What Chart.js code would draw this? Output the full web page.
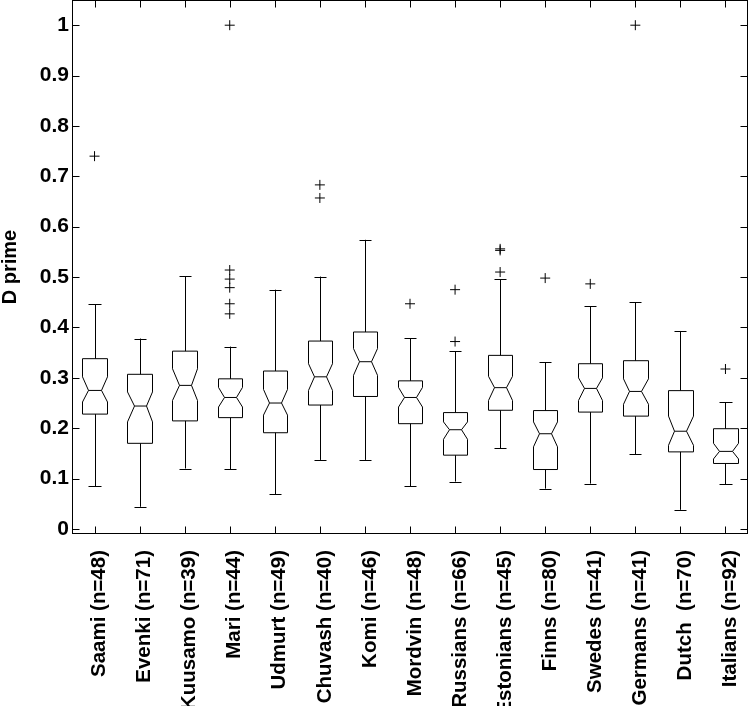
<!DOCTYPE html>
<html>
<head>
<meta charset="utf-8">
<script src="https://cdn.jsdelivr.net/npm/chart.js@4"></script>
<style>
  html, body { margin: 0; padding: 0; background: #fff; }
  #wrap { width: 749px; height: 706px; }
</style>
</head>
<body>
<div id="wrap"><canvas id="chart"></canvas></div>
<script>
const groups = [
  'Saami (n=48)', 'Evenki (n=71)', 'Kuusamo (n=39)', 'Mari (n=44)', 'Udmurt (n=49)',
  'Chuvash (n=40)', 'Komi (n=46)', 'Mordvin (n=48)', 'Russians (n=66)', 'Estonians (n=45)',
  'Finns (n=80)', 'Swedes (n=41)', 'Germans (n=41)', 'Dutch  (n=70)', 'Italians (n=92)'
];
const lowerWhisker = [0.085, 0.044, 0.120, 0.119, 0.069, 0.137, 0.137, 0.085, 0.094, 0.160, 0.080, 0.090, 0.148, 0.038, 0.089];
const q1           = [0.228, 0.170, 0.2145, 0.221, 0.191, 0.246, 0.263, 0.209, 0.1465, 0.2356, 0.118, 0.232, 0.224, 0.153, 0.130];
const notchLow     = [0.252, 0.2125, 0.255, 0.242, 0.226, 0.275, 0.305, 0.242, 0.178, 0.255, 0.163, 0.255, 0.2475, 0.166, 0.139];
const median       = [0.275, 0.244, 0.285, 0.261, 0.250, 0.302, 0.332, 0.261, 0.197, 0.2805, 0.189, 0.279, 0.273, 0.194, 0.154];
const notchHigh    = [0.302, 0.272, 0.318, 0.281, 0.277, 0.328, 0.358, 0.281, 0.2125, 0.303, 0.2125, 0.300, 0.298, 0.224, 0.170];
const q3           = [0.338, 0.307, 0.353, 0.298, 0.3135, 0.373, 0.391, 0.294, 0.231, 0.3446, 0.235, 0.328, 0.334, 0.2746, 0.199];
const upperWhisker = [0.446, 0.378, 0.502, 0.362, 0.475, 0.501, 0.574, 0.379, 0.353, 0.496, 0.331, 0.442, 0.450, 0.393, 0.2515];
const outliers = [
  [0.740], [], [], [0.427, 0.447, 0.479, 0.496, 0.514, 1.0], [],
  [0.657, 0.683], [], [0.447], [0.372, 0.475], [0.510, 0.553, 0.556],
  [0.498], [0.4865], [1.0], [], [0.3175]
];
const yTicks = [0, 0.1, 0.2, 0.3, 0.4, 0.5, 0.6, 0.7, 0.8, 0.9, 1];

const FONT = "'Liberation Sans', Helvetica, Arial, sans-serif";

const outlierPoints = [];
outliers.forEach((vals, i) => {
  vals.forEach(v => outlierPoints.push({ x: groups[i], y: v }));
});

const crisp = v => Math.round(v) + 0.5;

// notched boxes, frame and inward ticks
const boxPlotPlugin = {
  id: 'boxPlot',
  afterDatasetsDraw(chart) {
    const { ctx, chartArea: area } = chart;
    const xs = chart.scales.x;
    const ys = chart.scales.y;
    const step = xs.getPixelForValue(1) - xs.getPixelForValue(0);
    const halfW = step * 0.27;
    const notchW = halfW * 0.5;
    const capW = halfW * 0.5;

    ctx.save();
    ctx.strokeStyle = '#000';
    ctx.lineWidth = 1;

    groups.forEach((g, i) => {
      const cx = xs.getPixelForValue(i);
      const py = v => ys.getPixelForValue(v);
      const l = crisp(cx - halfW), r = crisp(cx + halfW);
      const nl = crisp(cx - notchW), nr = crisp(cx + notchW);

      // box with notch
      ctx.beginPath();
      ctx.moveTo(l, py(q3[i]));
      ctx.lineTo(r, py(q3[i]));
      ctx.lineTo(r, py(notchHigh[i]));
      ctx.lineTo(nr, py(median[i]));
      ctx.lineTo(r, py(notchLow[i]));
      ctx.lineTo(r, py(q1[i]));
      ctx.lineTo(l, py(q1[i]));
      ctx.lineTo(l, py(notchLow[i]));
      ctx.lineTo(nl, py(median[i]));
      ctx.lineTo(l, py(notchHigh[i]));
      ctx.closePath();
      ctx.stroke();

      // median
      ctx.beginPath();
      ctx.moveTo(nl, py(median[i]));
      ctx.lineTo(nr, py(median[i]));
      ctx.stroke();

      // whiskers
      const wx = crisp(cx);
      ctx.beginPath();
      ctx.moveTo(wx, py(q3[i]));
      ctx.lineTo(wx, py(upperWhisker[i]));
      ctx.moveTo(wx, py(q1[i]));
      ctx.lineTo(wx, py(lowerWhisker[i]));
      ctx.moveTo(crisp(cx - capW), crisp(py(upperWhisker[i])));
      ctx.lineTo(crisp(cx + capW), crisp(py(upperWhisker[i])));
      ctx.moveTo(crisp(cx - capW), crisp(py(lowerWhisker[i])));
      ctx.lineTo(crisp(cx + capW), crisp(py(lowerWhisker[i])));
      ctx.stroke();
    });

    // frame
    const L = crisp(area.left), R = crisp(area.right - 1);
    const T = crisp(area.top), B = crisp(area.bottom - 1);
    ctx.strokeRect(L, T, R - L, B - T);

    // inward ticks
    const tick = 7;
    ctx.beginPath();
    groups.forEach((g, i) => {
      const x = crisp(xs.getPixelForValue(i));
      ctx.moveTo(x, B); ctx.lineTo(x, B - tick);
      ctx.moveTo(x, T); ctx.lineTo(x, T + tick);
    });
    yTicks.forEach(v => {
      const y = crisp(ys.getPixelForValue(v));
      ctx.moveTo(L, y); ctx.lineTo(L + tick, y);
      ctx.moveTo(R, y); ctx.lineTo(R - tick, y);
    });
    ctx.stroke();
    ctx.restore();
  }
};

new Chart(document.getElementById('chart'), {
  type: 'line',
  data: {
    labels: groups,
    datasets: [{
      label: 'Outliers',
      data: outlierPoints,
      showLine: false,
      pointStyle: 'cross',
      pointRadius: 5,
      pointBorderWidth: 1,
      borderColor: '#000',
      backgroundColor: '#000',
    }],
  },
  options: {
    responsive: true,
    maintainAspectRatio: false,
    animation: false,
    layout: { autoPadding: false, padding: { top: 0, right: 1, bottom: 0, left: 0 } },
    plugins: {
      legend: { display: false },
      tooltip: { enabled: false },
    },
    scales: {
      x: {
        type: 'category',
        offset: true,
        grid: { display: false, drawTicks: false },
        border: { display: false },
        ticks: {
          autoSkip: false,
          minRotation: 90,
          maxRotation: 90,
          padding: 16,
          labelOffset: 5,
          color: '#000',
          font: { family: FONT, size: 20.5, weight: 'bold' },
        },
        afterFit(scale) {
          scale.height = 172;
          scale.paddingLeft = 0;
          scale.paddingRight = 0;
        },
      },
      y: {
        min: -0.01,
        max: 1.05,
        grid: { display: false, drawTicks: false },
        border: { display: false },
        afterBuildTicks(scale) { scale.ticks = yTicks.map(v => ({ value: v })); },
        ticks: {
          padding: 3,
          color: '#000',
          font: { family: FONT, size: 21, weight: 'bold' },
          callback: v => String(v),
        },
        title: {
          display: true,
          text: 'D prime',
          color: '#000',
          padding: 0,
          font: { family: FONT, size: 20, weight: 'bold', lineHeight: 1 },
        },
        afterFit(scale) {
          scale.width = 72;
          scale.paddingTop = 0;
          scale.paddingBottom = 0;
        },
      },
    },
  },
  plugins: [boxPlotPlugin],
});
</script>
</body>
</html>
